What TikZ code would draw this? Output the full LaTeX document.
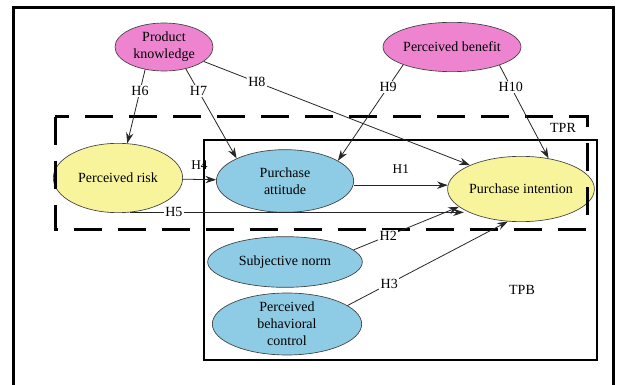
\documentclass[tikz,border=0pt]{standalone}
\usepackage{fontspec}
\setmainfont{Liberation Serif}
\usetikzlibrary{shapes.geometric,arrows.meta}

\definecolor{pinkfill}{RGB}{238,132,208}
\definecolor{bluefill}{RGB}{142,203,228}
\definecolor{yellowfill}{RGB}{247,244,155}

\begin{document}
\begin{tikzpicture}[x=0.75pt, y=-0.75pt, >={Stealth[length=8pt,width=5.5pt]},
    model/.style={ellipse, draw=black!75, line width=0.5pt, inner sep=0pt,
    align=center, font=\fontsize{10.5}{12.6}\selectfont},
    hyp/.style={fill=white, inner sep=1pt, font=\fontsize{10.5}{12.6}\selectfont},
    link/.style={->, line width=0.6pt, draw=black!85}]

  \useasboundingbox (0,0) rectangle (619,385);
  \draw[line width=2.25pt] (13,8) rectangle (613,400);
  \draw[line width=0.9pt] (204,140) rectangle (597,360);

  \node[model, fill=pinkfill, minimum width=73.5pt, minimum height=36pt] (PK) at (164,47) {Product\\knowledge};
  \node[model, fill=pinkfill, minimum width=103pt, minimum height=37pt] (PB) at (452,47) {Perceived benefit};
  \node[model, fill=yellowfill, minimum width=97pt, minimum height=52pt] (PR) at (118,178) {Perceived risk};
  \node[model, fill=bluefill, minimum width=103pt, minimum height=47pt] (PA) at (285,181) {Purchase\\attitude};
  \node[model, fill=yellowfill, minimum width=110pt, minimum height=49pt] (PI) at (521,189) {Purchase intention};
  \node[model, fill=bluefill, minimum width=116pt, minimum height=38pt] (SN) at (285,262) {Subjective norm};
  \node[model, fill=bluefill, minimum width=112pt, minimum height=46.5pt] (PBC) at (287,324) {Perceived\\behavioral\\control};

  \draw[line width=2.25pt, dash pattern=on 21pt off 12pt] (55,117) rectangle (587,230);
  \node[font=\fontsize{10.5}{12.6}\selectfont] (TPR) at (563,128) {TPR};
  \node[font=\fontsize{10.5}{12.6}\selectfont] (TPB) at (522,290) {TPB};

  \draw[link] (PA.east |- PI.177) -- (PI.177) node[midway, above=5pt] {H1};
  \draw[link] (SN.10) -- (PI.196) node[hyp, pos=0.33] {H2};
  \draw[link] (PBC.17) -- (PI.248) node[hyp, pos=0.26] {H3};
  \draw[link] (PR) -- (PA) node[midway, above=4pt] {H4};
  \draw[link] (PR.-70) -- (PR.-70 -| PI.200) node[hyp, pos=0.13] {H5};
  \draw[link] (PK.230) -- (PR.75) node[hyp, pos=0.29] {H6};
  \draw[link] (PK.315) -- (PA.155) node[hyp, pos=0.25] {H7};
  \draw[link] (PK.-20) -- (PI.155) node[hyp, pos=0.2] {H8};
  \draw[link] (PB.200) -- (PA.21) node[hyp, pos=0.23] {H9};
  \draw[link] (PB.-21) -- (PI.48) node[hyp, pos=0.23] {H10};
\end{tikzpicture}
\end{document}
